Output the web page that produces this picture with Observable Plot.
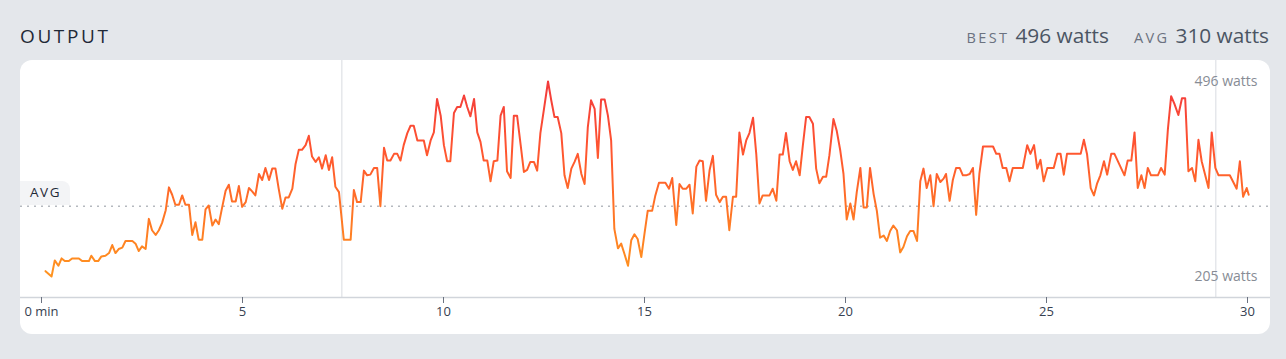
<!DOCTYPE html>
<html>
<head>
<meta charset="utf-8">
<script src="https://cdn.jsdelivr.net/npm/d3@7"></script>
<script src="https://cdn.jsdelivr.net/npm/@observablehq/plot@0.6"></script>
<style>
  html, body { margin: 0; padding: 0; }
  body { background: #e4e7eb; font-family: "Open Sans", sans-serif; width: 1286px; height: 359px; position: relative; overflow: hidden; }
  #title { position: absolute; left: 20px; top: 26px; font-size: 19px; line-height: 20px; letter-spacing: 2.6px; font-weight: 500; color: #1f2937; }
  #stats { position: absolute; right: 17px; top: 23px; display: flex; align-items: baseline; line-height: 24px; white-space: nowrap; }
  .lbl { font-size: 14.5px; letter-spacing: 2.4px; color: #6b7280; font-weight: 500; margin-right: 6px; }
  .val { font-size: 20.8px; color: #4b5563; font-weight: 500; }
  .gap { width: 25px; display: inline-block; }
  #card { position: absolute; left: 20px; top: 60px; width: 1250px; height: 274px; background: #fff; border-radius: 12px; overflow: hidden; }
  #avgtag { position: absolute; left: 0; top: 121px; width: 50px; height: 24px; background: #f3f4f6; border-radius: 0 8px 0 0; display: flex; align-items: center; justify-content: center; font-size: 13.5px; letter-spacing: 1.6px; color: #1f2937; font-weight: 500; padding-left: 1px; box-sizing: border-box; padding-bottom: 3px; }
  #card svg { position: absolute; left: 0; top: 0; }
</style>
</head>
<body>
<div id="title"></div>
<div id="stats"></div>
<div id="card"><div id="avgtag"></div></div>
<script>
// ---- data (minutes, watts) ----
const titleText = "OUTPUT";
const bestWatts = 496;
const avgWatts = 310;
const minWatts = 205;
const unit = "watts";
const xTicks = [0, 5, 10, 15, 20, 25, 30];
const lapMarkers = [7.47, 29.21];

const power = [
  [0.10,213],[0.25,205],[0.33,229],[0.42,221],[0.50,232],[0.58,228],[0.68,228],[0.76,232],[0.93,232],[1.01,228],
  [1.18,228],[1.24,236],[1.33,228],[1.41,228],[1.49,235],[1.59,236],[1.68,240],[1.76,252],[1.84,240],[1.92,246],
  [2.01,248],[2.09,258],[2.26,258],[2.34,254],[2.42,243],[2.50,250],[2.59,246],[2.67,291],[2.75,274],[2.84,267],
  [2.92,274],[3.00,285],[3.09,304],[3.17,338],[3.25,327],[3.33,312],[3.42,312],[3.50,326],[3.58,312],[3.67,312],
  [3.75,267],[3.83,286],[3.91,260],[4.00,260],[4.08,305],[4.16,311],[4.25,281],[4.33,290],[4.41,283],[4.49,307],
  [4.58,333],[4.66,342],[4.74,317],[4.83,317],[4.91,340],[4.99,309],[5.08,316],[5.16,337],[5.24,332],[5.32,326],
  [5.41,358],[5.49,349],[5.57,367],[5.66,349],[5.74,366],[5.82,366],[5.90,336],[5.99,306],[6.07,323],[6.15,323],
  [6.24,336],[6.32,373],[6.40,394],[6.48,394],[6.57,401],[6.65,415],[6.73,384],[6.82,376],[6.90,383],[6.98,366],
  [7.07,386],[7.15,364],[7.23,383],[7.31,339],[7.40,331],
  [7.52,260],[7.69,260],[7.77,334],[7.85,316],[7.94,316],[8.02,363],[8.10,356],[8.18,357],[8.27,367],[8.35,367],
  [8.43,310],[8.52,397],[8.60,378],[8.68,378],[8.77,388],[8.85,388],[8.93,378],[9.01,401],[9.10,419],[9.18,430],
  [9.26,430],[9.35,408],[9.51,408],[9.59,386],[9.68,408],[9.76,420],[9.84,470],[9.93,445],[10.01,401],[10.09,377],
  [10.17,377],[10.26,449],[10.34,458],[10.42,458],[10.51,475],[10.59,458],[10.67,444],[10.76,470],[10.84,420],[10.92,406],
  [11.00,378],[11.09,378],[11.17,347],[11.25,377],[11.34,378],[11.42,445],[11.50,458],[11.58,362],[11.67,352],[11.75,445],
  [11.83,445],[11.92,401],[12.00,361],[12.08,364],[12.16,376],[12.25,376],[12.33,363],[12.41,419],[12.50,455],[12.60,496],
  [12.68,468],[12.76,443],[12.84,443],[12.93,419],[13.01,356],[13.09,337],[13.18,366],[13.26,376],[13.34,388],[13.43,358],
  [13.51,343],[13.59,428],[13.67,468],[13.76,455],[13.84,382],[13.92,469],[14.01,469],[14.09,445],[14.17,408],[14.25,276],
  [14.34,247],[14.42,254],[14.50,239],[14.59,221],[14.67,259],[14.75,268],[14.83,261],[14.92,234],[15.00,269],[15.08,303],
  [15.19,303],[15.27,326],[15.36,345],[15.52,345],[15.61,336],[15.69,352],[15.79,282],[15.87,343],[15.95,336],[16.04,336],
  [16.12,342],[16.20,299],[16.29,369],[16.37,378],[16.45,377],[16.53,318],[16.62,364],[16.70,385],[16.78,327],[16.87,316],
  [16.95,324],[17.03,324],[17.11,274],[17.20,324],[17.28,324],[17.36,420],[17.45,387],[17.53,408],[17.61,419],[17.70,442],
  [17.78,388],[17.86,314],[17.94,326],[18.11,326],[18.19,336],[18.28,318],[18.36,387],[18.44,387],[18.52,419],[18.61,377],
  [18.69,364],[18.77,377],[18.86,356],[18.94,401],[19.02,443],[19.10,443],[19.19,433],[19.27,366],[19.35,344],[19.44,354],
  [19.52,354],[19.60,386],[19.70,440],[19.78,423],[19.87,393],[19.95,358],[20.03,290],[20.12,314],[20.20,290],[20.28,331],
  [20.37,367],[20.45,308],[20.53,308],[20.61,367],[20.70,328],[20.78,303],[20.86,263],[20.95,266],[21.03,258],[21.11,273],
  [21.19,281],[21.28,274],[21.36,241],[21.44,249],[21.53,265],[21.61,273],[21.69,273],[21.78,258],[21.86,347],[21.94,366],
  [22.02,337],[22.11,356],[22.19,310],[22.27,358],[22.36,346],[22.44,351],[22.50,358],[22.59,318],[22.67,349],[22.75,367],
  [22.84,367],[22.92,356],[23.00,356],[23.09,358],[23.17,367],[23.25,297],[23.33,358],[23.42,399],[23.67,399],[23.75,388],
  [23.83,388],[23.91,367],[24.00,367],[24.08,347],[24.16,367],[24.41,367],[24.52,401],[24.60,388],[24.69,401],[24.77,366],
  [24.85,379],[24.93,347],[25.02,367],[25.18,367],[25.27,388],[25.35,388],[25.43,357],[25.51,388],[25.85,388],[25.93,409],
  [26.01,387],[26.10,337],[26.18,326],[26.26,344],[26.34,356],[26.43,377],[26.51,357],[26.61,388],[26.69,388],[26.94,356],
  [27.02,378],[27.11,378],[27.19,420],[27.27,337],[27.36,356],[27.44,337],[27.52,367],[27.60,356],[27.77,356],[27.85,367],
  [27.94,357],[28.02,425],[28.10,474],[28.18,463],[28.28,446],[28.37,471],[28.45,471],[28.53,362],[28.62,367],[28.70,347],
  [28.78,409],[28.86,377],[29.03,337],[29.11,420],[29.20,367],[29.28,356],[29.56,356],[29.73,336],[29.81,377],[29.89,324],
  [29.98,337],[30.03,327]
];

// ---- header ----
document.getElementById("title").textContent = titleText;
document.getElementById("stats").innerHTML =
  `<span class="lbl">BEST</span><span class="val">${bestWatts} ${unit}</span><span class="gap"></span>` +
  `<span class="lbl">AVG</span><span class="val">${avgWatts} ${unit}</span>`;
document.getElementById("avgtag").textContent = "AVG";

const data = power.map(([t, w]) => ({t, w}));
const scaleLabels = [{w: bestWatts}, {w: minWatts}];

const chart = Plot.plot({
  width: 1250,
  height: 274,
  marginTop: 0, marginRight: 0, marginBottom: 37, marginLeft: 0,
  style: {fontFamily: "Open Sans, sans-serif", fontSize: "13px", background: "transparent", color: "#374151"},
  x: {domain: [0, 30], range: [21, 1227], axis: null, label: null},
  y: {domain: [minWatts, bestWatts], range: [216, 21], axis: null, label: null},
  marks: [
    Plot.ruleX(lapMarkers, {stroke: "#e5e7eb", strokeWidth: 1.5}),
    Plot.ruleY([avgWatts], {stroke: "#b5b9bf", strokeWidth: 1.5, strokeDasharray: "2,5"}),
    Plot.frame({anchor: "bottom", stroke: "#d1d5db", strokeWidth: 1.5}),
    Plot.axisX(xTicks, {tickSize: 6, tickPadding: 3, stroke: "#6b7280", fill: "#374151", label: null,
      tickFormat: d => d === 0 ? "0 min" : String(d)}),
    Plot.line(data, {x: "t", y: "w", stroke: "url(#powerGrad)", strokeWidth: 2, strokeLinejoin: "round"}),
    Plot.text(scaleLabels, {x: () => 30, y: "w", text: d => `${d.w} ${unit}`, textAnchor: "end", dx: 10,
      fill: "#878c95", fontSize: 14})
  ]
});

// vertical colour gradient for the line, placed with the library's y scale
const yS = chart.scale("y");
const ns = "http://www.w3.org/2000/svg";
const defs = document.createElementNS(ns, "defs");
defs.innerHTML = `<linearGradient id="powerGrad" gradientUnits="userSpaceOnUse" x1="0" x2="0" y1="${yS.apply(minWatts)}" y2="${yS.apply(bestWatts)}">
  <stop offset="0" stop-color="#ff9420"/>
  <stop offset="0.35" stop-color="#ff7326"/>
  <stop offset="0.65" stop-color="#ff5530"/>
  <stop offset="1" stop-color="#f23a3c"/>
</linearGradient>`;
chart.insertBefore(defs, chart.firstChild);

document.getElementById("card").appendChild(chart);
</script>
</body>
</html>
